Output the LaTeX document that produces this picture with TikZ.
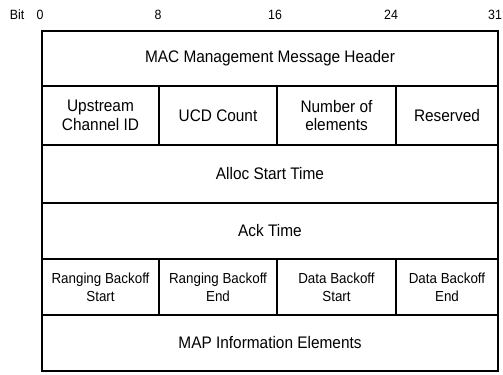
\documentclass[tikz,border=0pt]{standalone}
\usepackage{fontspec}
\setmainfont{Liberation Sans}[FakeStretch=0.92]
\tikzstyle{field} = [rectangle, draw, text centered, align=center, inner sep=0pt, line width=1.2bp, font=\fontsize{16.8}{18.5}\selectfont]
\tikzstyle{wide} = [field, minimum width=456bp]
\tikzstyle{small} = [field, font=\fontsize{14.6}{18}\selectfont]
\tikzstyle{bitlabel} = [inner sep=0pt, font=\fontsize{13.5}{15}\selectfont]

\begin{document}
\begin{tikzpicture}[x=1bp, y=-1bp]
            \useasboundingbox (0,0) rectangle (503,374);
            % bit numbers
            \node (bit) [bitlabel] at (17,15) {Bit};
            \node (b0) [bitlabel] at (40,15) {0};
            \node (b8) [bitlabel] at (158,15) {8};
            \node (b16) [bitlabel] at (275,15) {16};
            \node (b24) [bitlabel] at (391,15) {24};
            \node (b31) [bitlabel] at (495,15) {31};
            % fields
            \node (hdr) [wide, minimum height=55bp] at (270,58.5) {MAC Management Message Header};
            \node (chid) [field, minimum width=117bp, minimum height=59bp] at (100.5,115.5) {Upstream\\Channel ID};
            \node (ucd) [field, minimum width=118bp, minimum height=59bp] at (218,115.5) {UCD Count};
            \node (nelem) [field, minimum width=119bp, minimum height=59bp] at (336.5,115.5) {Number of\\elements};
            \node (resv) [field, minimum width=102bp, minimum height=59bp] at (447,115.5) {Reserved};
            \node (alloc) [wide, minimum height=58bp] at (270,174) {Alloc Start Time};
            \node (ack) [wide, minimum height=56bp] at (270,231) {Ack Time};
            \node (rbs) [small, minimum width=117bp, minimum height=56bp] at (100.5,287) {Ranging Backoff\\Start};
            \node (rbe) [small, minimum width=118bp, minimum height=56bp] at (218,287) {Ranging Backoff\\End};
            \node (dbs) [small, minimum width=119bp, minimum height=56bp] at (336.5,287) {Data Backoff\\Start};
            \node (dbe) [small, minimum width=102bp, minimum height=56bp] at (447,287) {Data Backoff\\End};
            \node (ie) [wide, minimum height=56bp] at (270,343) {MAP Information Elements};
        \end{tikzpicture}
\end{document}
